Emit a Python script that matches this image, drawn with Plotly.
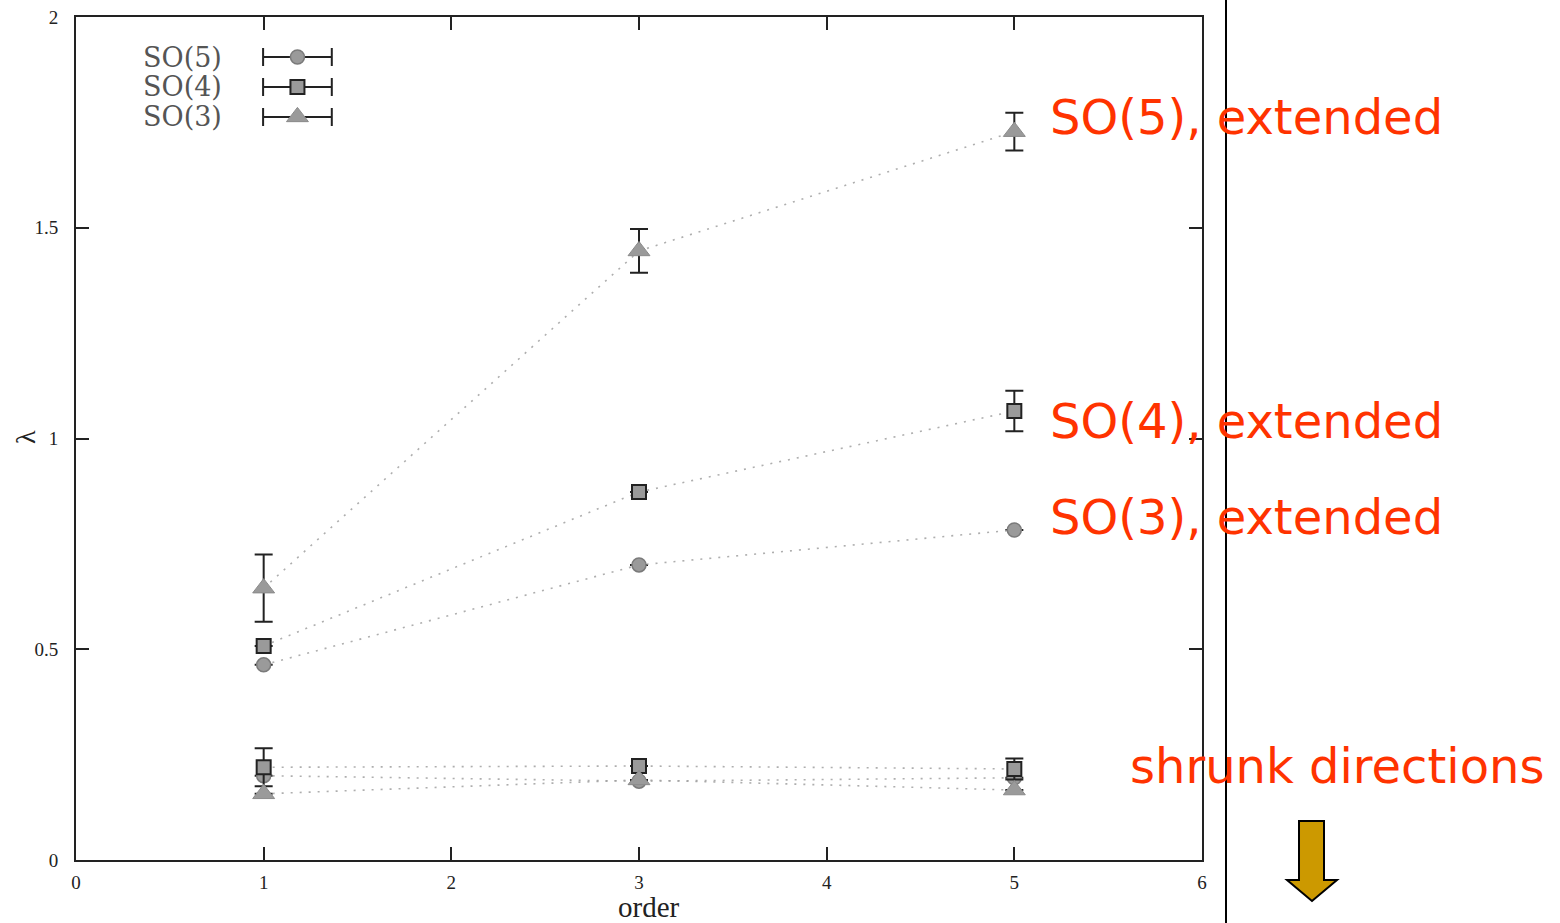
import plotly.graph_objects as go

# ---- data -------------------------------------------------------------
orders = [1, 3, 5]

# extended directions
ext_circle = [0.463, 0.700, 0.783]
ext_circle_err = [0.0, 0.0, 0.0]
ext_square = [0.508, 0.873, 1.065]
ext_square_err = [0.0, 0.0, 0.048]
ext_triangle = [0.645, 1.445, 1.728]
ext_triangle_err = [0.080, 0.052, 0.045]

# shrunk directions
shr_circle = [0.200, 0.187, 0.195]
shr_circle_err = [0.0, 0.0, 0.0]
shr_square = [0.220, 0.223, 0.216]
shr_square_err = [0.045, 0.0, 0.025]
shr_triangle = [0.157, 0.190, 0.166]
shr_triangle_err = [0.0, 0.0, 0.0]

legend_names = ["SO(5)", "SO(4)", "SO(3)"]
x_ticks = [0, 1, 2, 3, 4, 5, 6]
y_ticks = [0, 0.5, 1, 1.5, 2]
y_tick_text = ["0", "0.5", "1", "1.5", "2"]

annotation_labels = ["SO(5), extended", "SO(4), extended", "SO(3), extended"]
shrunk_label = "shrunk directions"

# ---- layout geometry --------------------------------------------------
W, H = 1560, 923
L, R, T, B = 76, 1202, 17, 860


def px(x):
    return (x - L) / (R - L)


def py(y):
    return (B - y) / (B - T)


GRAY = "#9a9a9a"
LINE = "rgba(160,160,160,0.85)"

styles = {
    "circle": dict(symbol="circle", size=14, color=GRAY, line=dict(color="#7a7a7a", width=1.5)),
    "square": dict(symbol="square", size=14, color=GRAY, line=dict(color="#222222", width=2)),
    "triangle": dict(symbol="triangle-up", size=19, color=GRAY, line=dict(color="#8a8a8a", width=1)),
}

fig = go.Figure()


def add_series(y, err, style):
    fig.add_trace(go.Scatter(
        x=orders, y=y, mode="lines+markers",
        line=dict(color=LINE, width=1.6, dash="2px,7px"),
        marker=styles[style],
        error_y=dict(type="data", array=err, visible=True, color="#222222",
                     thickness=2, width=9),
        showlegend=False, hoverinfo="skip",
    ))


add_series(ext_circle, ext_circle_err, "circle")
add_series(ext_square, ext_square_err, "square")
add_series(ext_triangle, ext_triangle_err, "triangle")
add_series(shr_circle, shr_circle_err, "circle")
add_series(shr_square, shr_square_err, "square")
add_series(shr_triangle, shr_triangle_err, "triangle")

# ---- key in the upper-left corner ---------------------------------------
key_y = [1.905, 1.834, 1.763]
key_style = ["circle", "square", "triangle"]
for name, ky, st in zip(legend_names, key_y, key_style):
    fig.add_trace(go.Scatter(
        x=[1.18], y=[ky], mode="markers", marker=styles[st],
        error_x=dict(type="constant", value=0.183, visible=True,
                     color="#222222", thickness=2, width=9),
        showlegend=False, hoverinfo="skip",
    ))
    fig.add_annotation(x=0.79, y=ky, xref="x", yref="y", text=name,
                       showarrow=False, xanchor="right", yanchor="middle",
                       font=dict(family="DejaVu Serif", size=27, color="#555555"))

# ---- right-hand labels ----------------------------------------------------
RED = "#ff3300"
for lab, ypix in zip(annotation_labels, [117, 421, 517]):
    fig.add_annotation(x=px(1048), y=py(ypix), xref="paper", yref="paper",
                       text=lab, showarrow=False, xanchor="left", yanchor="middle",
                       font=dict(family="DejaVu Sans", size=48, color=RED))
fig.add_annotation(x=px(1128), y=py(766), xref="paper", yref="paper",
                   text=shrunk_label, showarrow=False, xanchor="left", yanchor="middle",
                   font=dict(family="DejaVu Sans", size=48, color=RED))

# vertical separator line
fig.add_shape(type="line", xref="paper", yref="paper",
              x0=px(1226), x1=px(1226), y0=py(H), y1=py(0),
              line=dict(color="black", width=2))

# downward arrow
pts = [(1299, 821), (1324, 821), (1324, 880), (1337, 880), (1312, 901),
       (1287, 880), (1299, 880)]
path = "M " + " L ".join(f"{px(a):.5f},{py(b):.5f}" for a, b in pts) + " Z"
fig.add_shape(type="path", xref="paper", yref="paper", path=path,
              fillcolor="#cc9900", line=dict(color="black", width=2))

# axis labels
fig.add_annotation(x=px(649), y=py(907), xref="paper", yref="paper", text="order",
                   showarrow=False, xanchor="center", yanchor="middle",
                   font=dict(family="Liberation Serif", size=29, color="#222222"))
fig.add_annotation(x=px(26), y=py(437), xref="paper", yref="paper", text="λ",
                   showarrow=False, textangle=-90, xanchor="center", yanchor="middle",
                   font=dict(family="Liberation Serif", size=28, color="#222222"))

axis_common = dict(
    showline=True, linecolor="#222222", linewidth=2, mirror="ticks",
    ticks="inside", ticklen=13, tickwidth=1.5, tickcolor="#222222",
    showgrid=False, zeroline=False, automargin=False,
    tickfont=dict(family="Liberation Serif", size=19, color="#222222"),
)

fig.update_layout(
    width=W, height=H,
    margin=dict(l=L, r=W - R, t=T, b=H - B),
    paper_bgcolor="white", plot_bgcolor="white",
    xaxis=dict(range=[0, 6], tickvals=x_ticks, ticklabelstandoff=4, **axis_common),
    yaxis=dict(range=[0, 2], tickvals=y_ticks, ticktext=y_tick_text,
               ticklabelstandoff=12, **axis_common),
    showlegend=False,
)

fig.write_html("out.html")
